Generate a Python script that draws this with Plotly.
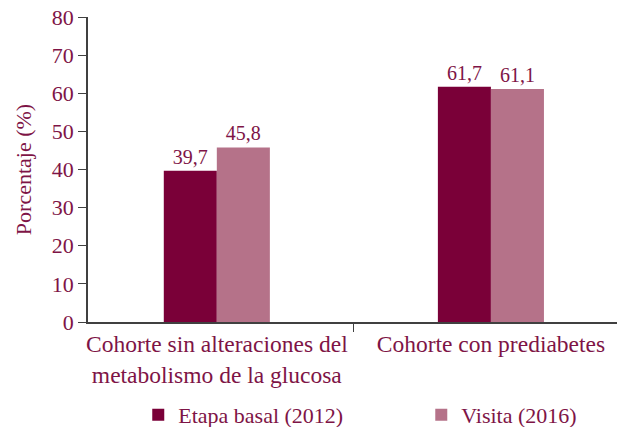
import plotly.graph_objects as go

# datos
cohortes = ["Cohorte sin alteraciones del<br>metabolismo de la glucosa",
            "Cohorte con prediabetes"]
basal_2012 = [39.7, 61.7]
visita_2016 = [45.8, 61.1]

dark = "#7a0038"
light = "#b57289"
txt = "#7e1446"
fnt = "Liberation Serif"


def coma(vals):
    return [f"{v:.1f}".replace(".", ",") for v in vals]


fig = go.Figure()
fig.add_trace(go.Bar(x=cohortes, y=basal_2012, name="Etapa basal (2012)",
                     marker_color=dark, text=coma(basal_2012),
                     textposition="outside", cliponaxis=False, legend="legend"))
fig.add_trace(go.Bar(x=cohortes, y=visita_2016, name="Visita (2016)",
                     marker_color=light, text=coma(visita_2016),
                     textposition="outside", cliponaxis=False, legend="legend2"))

fig.update_traces(textfont=dict(family=fnt, size=20, color=txt),
                  marker_line_width=0)

leg = dict(orientation="h", yanchor="middle", y=-0.305, xanchor="left",
           font=dict(family=fnt, size=22, color=txt), bgcolor="rgba(0,0,0,0)")

fig.update_layout(
    width=617, height=427,
    margin=dict(l=88, r=0, t=17, b=105, autoexpand=False),
    paper_bgcolor="white", plot_bgcolor="white",
    barmode="group", bargap=0.613, bargroupgap=0,
    font=dict(family=fnt, size=20, color=txt),
    showlegend=True,
    legend=dict(leg, x=0.095),
    legend2=dict(leg, x=0.63),
)
fig.update_xaxes(range=[-0.47, 1.46], showline=True, linecolor="#404040",
                 linewidth=1.5, ticks="outside", tickson="boundaries",
                 ticklen=8, tickcolor="#404040", showgrid=False,
                 tickfont=dict(size=23.5))
fig.update_yaxes(range=[0, 80], dtick=10, showline=True, linecolor="#404040",
                 linewidth=1.5, ticks="outside", ticklen=8, tickcolor="#404040",
                 showgrid=False, zeroline=False, tickfont=dict(size=22),
                 title=dict(text="Porcentaje (%)", standoff=14,
                            font=dict(family=fnt, size=22, color=txt)))

# sin el margen por defecto del <body>
fig.write_html("out.html", config={"displayModeBar": False},
               post_script="document.body.style.margin='0';")
